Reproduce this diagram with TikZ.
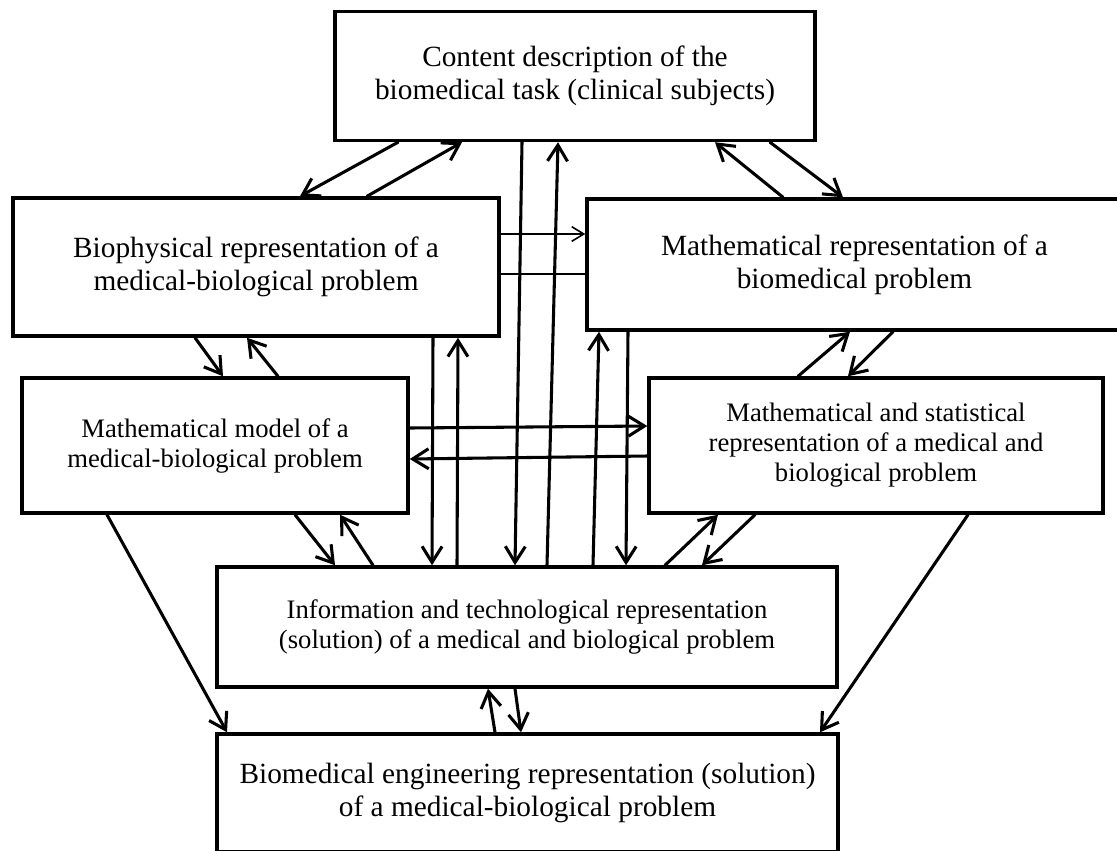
\documentclass[tikz,border=0pt]{standalone}
\usepackage{fontspec}
\setmainfont{Liberation Serif}
\usetikzlibrary{arrows.meta}
\tikzset{
  box/.style={draw, line width=2.6pt, align=center, inner sep=2pt, font=\fontsize{22}{24.5}\selectfont},
  boxs/.style={box, font=\fontsize{20}{22.5}\selectfont},
  arr/.style={line width=2.3pt, line cap=round, -{Straight Barb[length=12pt,width=15pt]}},
  thinarr/.style={line width=1.2pt, -{Straight Barb[length=9pt,width=11pt]}},
  thinline/.style={line width=1.2pt},
}

\begin{document}
\begin{tikzpicture}[x=0.75pt, y=-0.75pt]
  \useasboundingbox (0,0) rectangle (1117,850);
  \clip (0,0) rectangle (1117,850);
  % boxes (centres and sizes in px of the page)
  \node[box, minimum width=360pt, minimum height=96.75pt] (task) at (575,76)
    {Content description of the\\biomedical task (clinical subjects)};
  \node[box, minimum width=364.5pt, minimum height=103.5pt] (bio) at (256,267)
    {Biophysical representation of a\\medical-biological problem};
  \node[box, minimum width=401.25pt, minimum height=98.25pt] (mathrep) at (854.5,264.5)
    {Mathematical representation of a\\biomedical problem};
  \node[boxs, minimum width=289.5pt, minimum height=101.25pt] (model) at (215,445.5)
    {Mathematical model of a\\medical-biological problem};
  \node[boxs, minimum width=340.5pt, minimum height=101.25pt] (stat) at (876,445.5)
    {Mathematical and statistical\\representation of a medical and\\biological problem};
  \node[boxs, minimum width=465pt, minimum height=90pt] (info) at (527,627)
    {Information and technological representation\\(solution) of a medical and biological problem};
  \node[box, minimum width=465.75pt, minimum height=88.5pt] (eng) at (527.5,793)
    {Biomedical engineering representation (solution)\\of a medical-biological problem};

  % task <-> upper boxes
  \draw[arr] (398,0 |- task.south) -- (300,0 |- bio.north);
  \draw[arr] (367,0 |- bio.north) -- (462,0 |- task.south);
  \draw[arr] (783,0 |- mathrep.north) -- (715,0 |- task.south);
  \draw[arr] (770,0 |- task.south) -- (843,0 |- mathrep.north);
  \draw[thinarr] (bio.east |- 0,234) -- (mathrep.west |- 0,234);
  \draw[thinline] (bio.east |- 0,274) -- (mathrep.west |- 0,274);

  % second row
  \draw[arr] (195,0 |- bio.south) -- (223,0 |- model.north);
  \draw[arr] (278,0 |- model.north) -- (247,0 |- bio.south);
  \draw[arr] (798,0 |- stat.north) -- (850,0 |- mathrep.south);
  \draw[arr] (893,0 |- mathrep.south) -- (848,0 |- stat.north);
  \draw[arr] (model.east |- 0,428) -- (stat.west |- 0,426);
  \draw[arr] (stat.west |- 0,456) -- (model.east |- 0,459);

  % long verticals down to the information box
  \draw[arr] (433,0 |- bio.south) -- (432,0 |- info.north);
  \draw[arr] (457,0 |- info.north) -- (458,0 |- bio.south);
  \draw[arr] (522,0 |- task.south) -- (515,0 |- info.north);
  \draw[arr] (547,0 |- info.north) -- (558,0 |- task.south);
  \draw[arr] (593,0 |- info.north) -- (599,0 |- mathrep.south);
  \draw[arr] (628,0 |- mathrep.south) -- (626,0 |- info.north);

  % model / stat <-> info
  \draw[arr] (295,0 |- model.south) -- (335,0 |- info.north);
  \draw[arr] (373,0 |- info.north) -- (340,0 |- model.south);
  \draw[arr] (665,0 |- info.north) -- (718,0 |- stat.south);
  \draw[arr] (755,0 |- stat.south) -- (702,0 |- info.north);

  % into the engineering box
  \draw[arr] (107,0 |- model.south) -- (227,0 |- eng.north);
  \draw[arr] (968,0 |- stat.south) -- (820,0 |- eng.north);
  \draw[arr] (495,0 |- eng.north) -- (488,0 |- info.south);
  \draw[arr] (515,0 |- info.south) -- (521,0 |- eng.north);
\end{tikzpicture}
\end{document}
